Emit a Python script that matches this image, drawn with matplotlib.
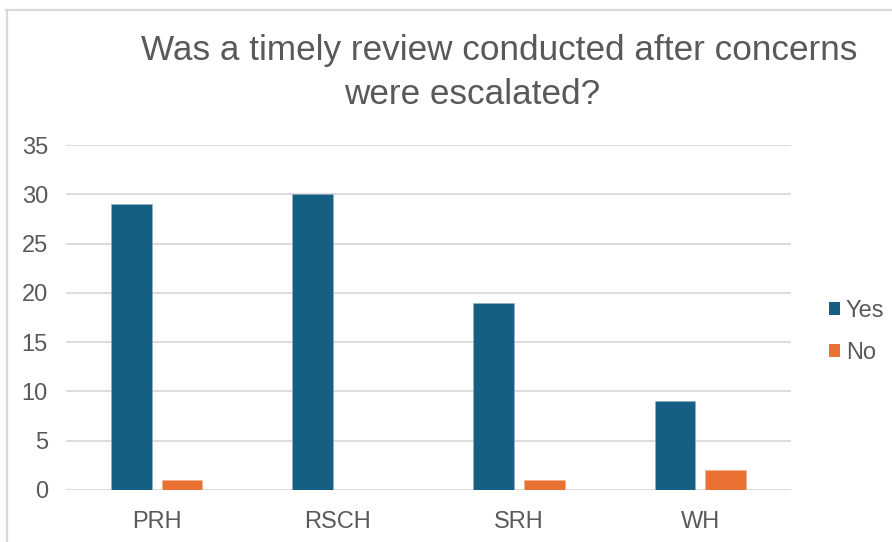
import matplotlib
matplotlib.use("Agg")
import matplotlib.pyplot as plt
import numpy as np
from matplotlib.lines import Line2D
from matplotlib.patches import Patch

sites = ["PRH", "RSCH", "SRH", "WH"]
yes_counts = [29, 30, 19, 9]
no_counts = [1, 0, 1, 2]
series_names = ["Yes", "No"]
y_ticks = [0, 5, 10, 15, 20, 25, 30, 35]

YES_COLOR = "#156082"
NO_COLOR = "#E97132"
TEXT_COLOR = "#595959"
GRID_COLOR = "#D9D9D9"

plt.rcParams["font.family"] = ["Liberation Sans", "DejaVu Sans"]

W, H, DPI = 892, 542, 100
fig = plt.figure(figsize=(W / DPI, H / DPI), dpi=DPI)

# plot area in pixel coordinates
left_px, right_px, top_px, bottom_px = 66, 791, 145, 490
ax = fig.add_axes([left_px / W, 1 - bottom_px / H,
                   (right_px - left_px) / W, (bottom_px - top_px) / H])

x = np.arange(len(sites))
width = 0.225
offset = 0.14
ax.bar(x - offset, yes_counts, width, color=YES_COLOR, edgecolor="#8FB3C6",
       linewidth=0.4, zorder=3, label=series_names[0])
ax.bar(x + offset, no_counts, width, color=NO_COLOR, edgecolor="#F4B08F",
       linewidth=0.4, zorder=3, label=series_names[1])

ax.set_xlim(-0.5, len(sites) - 0.5)
ax.set_ylim(0, 35)
ax.set_yticks(y_ticks)
ax.set_xticks(x)
ax.set_xticklabels(sites)
ax.grid(axis="y", color=GRID_COLOR, linewidth=1.3, zorder=0)
for s in ax.spines.values():
    s.set_visible(False)
ax.tick_params(axis="both", length=0, labelsize=17, colors=TEXT_COLOR)
ax.tick_params(axis="y", pad=13)
ax.tick_params(axis="x", pad=15)

# title
fig.text(499 / W, 1 - 60 / H, "Was a timely review conducted after concerns",
         ha="center", va="baseline", fontsize=25.3, color=TEXT_COLOR)
fig.text(472 / W, 1 - 104 / H, "were escalated?",
         ha="center", va="baseline", fontsize=25.3, color=TEXT_COLOR)

# legend
handles = [Patch(facecolor=YES_COLOR, edgecolor="none"),
           Patch(facecolor=NO_COLOR, edgecolor="none")]
fig.legend(handles, series_names, loc="center left",
           bbox_to_anchor=(829 / W, 1 - 332 / H), frameon=False,
           fontsize=17, labelcolor=TEXT_COLOR, handlelength=0.47,
           handleheight=0.47, handletextpad=0.25, labelspacing=0.82,
           borderpad=0, borderaxespad=0)

# frame edges along top and left
fig.add_artist(Line2D([6 / W, 1], [1 - 9.5 / H] * 2, color=GRID_COLOR,
                      linewidth=1.6, transform=fig.transFigure))
fig.add_artist(Line2D([6.5 / W] * 2, [0, 1 - 9.5 / H], color=GRID_COLOR,
                      linewidth=1.6, transform=fig.transFigure))

fig.savefig("out.png", dpi=DPI)
